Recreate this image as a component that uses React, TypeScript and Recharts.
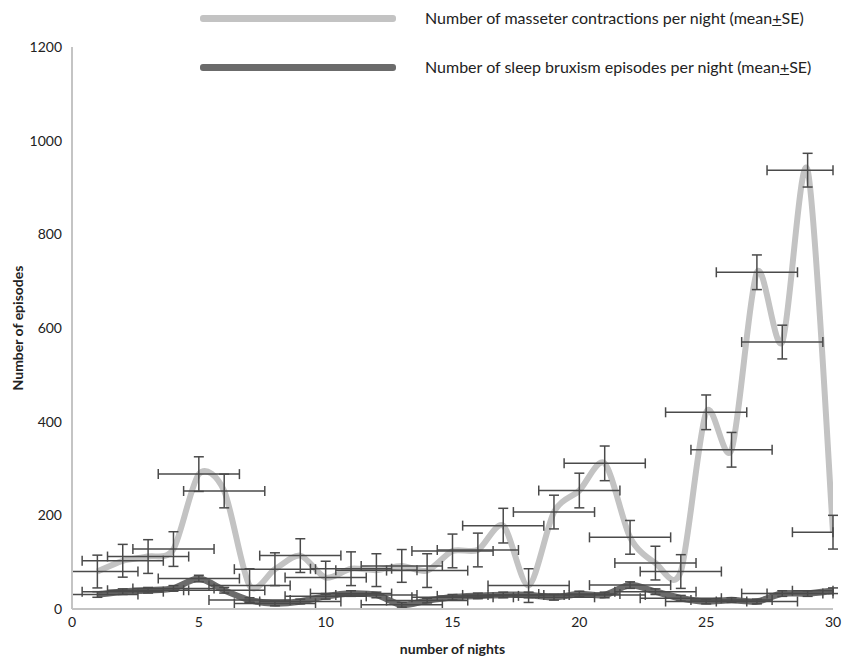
import React from 'react';
import { ComposedChart, Line, Scatter, ErrorBar, XAxis, YAxis, Legend } from 'recharts';

const nights = [1, 2, 3, 4, 5, 6, 7, 8, 9, 10, 11, 12, 13, 14, 15, 16, 17, 18, 19, 20, 21, 22, 23, 24, 25, 26, 27, 28, 29, 30];
const masseterMean = [80, 103, 112, 128, 288, 252, 50, 85, 114, 67, 86, 83, 92, 82, 124, 126, 178, 50, 207, 253, 311, 153, 98, 80, 420, 340, 719, 570, 937, 164];
const masseterSE = [35, 35, 36, 37, 37, 36, 36, 35, 36, 35, 36, 35, 35, 36, 36, 36, 37, 36, 36, 37, 37, 36, 36, 36, 37, 37, 37, 36, 36, 36];
const bruxismMean = [31, 37, 40, 44, 65, 40, 19, 12, 16, 27, 33, 30, 9, 18, 25, 28, 30, 30, 25, 32, 30, 51, 37, 23, 16, 19, 16, 33, 33, 39];
const bruxismSE = [6, 6, 6, 6, 7, 6, 5, 5, 5, 6, 6, 6, 5, 5, 6, 6, 6, 6, 6, 6, 6, 7, 6, 6, 5, 5, 5, 6, 6, 6];
// horizontal spread of each night (left / right arm, as drawn, ending at the axis limits)
const nightSpreadLow = [1.0, 1.6, 1.6, 1.6, 1.6, 1.6, 1.6, 1.6, 1.6, 1.6, 1.6, 1.6, 1.6, 1.6, 1.6, 1.6, 1.6, 1.6, 1.6, 1.6, 1.6, 1.6, 1.6, 1.6, 1.6, 1.6, 1.6, 1.6, 1.6, 1.6];
const nightSpreadHigh = [1.6, 1.6, 1.6, 1.6, 1.6, 1.6, 1.6, 1.6, 1.6, 1.6, 1.6, 1.6, 1.6, 1.6, 1.6, 1.6, 1.6, 1.6, 1.6, 1.6, 1.6, 1.6, 1.6, 1.6, 1.6, 1.6, 1.6, 1.6, 1.0, 0];
const xTicks = [0, 5, 10, 15, 20, 25, 30];
const yTicks = [0, 200, 400, 600, 800, 1000, 1200];
const seriesNames = [
  'Number of masseter contractions per night (mean',
  'Number of sleep bruxism episodes per night (mean',
];

const data = nights.map((n, i) => ({
  night: n,
  masseter: masseterMean[i],
  masseterSE: masseterSE[i],
  bruxism: bruxismMean[i],
  bruxismSE: bruxismSE[i],
  xErr: [nightSpreadLow[i], nightSpreadHigh[i]],
}));

const LIGHT = '#c3c3c3';
const DARK = '#6b6b6b';
const BAR = '#4a4a4a';
const FONT = 'Lato, "Liberation Sans", sans-serif';

// Excel-like smoothed line (cardinal spline through the points)
function smoothCurve(context: any) {
  let pts: number[][] = [];
  return {
    areaStart() {},
    areaEnd() {},
    lineStart() {
      pts = [];
    },
    point(x: number, y: number) {
      pts.push([+x, +y]);
    },
    lineEnd() {
      const n = pts.length;
      if (!n) return;
      context.moveTo(pts[0][0], pts[0][1]);
      for (let i = 0; i < n - 1; i++) {
        const p0 = pts[i - 1] || pts[i];
        const p1 = pts[i];
        const p2 = pts[i + 1];
        const p3 = pts[i + 2] || p2;
        const t = 0.14;
        context.bezierCurveTo(
          p1[0] + (p2[0] - p0[0]) * t,
          p1[1] + (p2[1] - p0[1]) * t,
          p2[0] - (p3[0] - p1[0]) * t,
          p2[1] - (p3[1] - p1[1]) * t,
          p2[0],
          p2[1]
        );
      }
    },
  };
}

const LegendContent = () => {
  const rows = [
    { color: LIGHT, name: seriesNames[0], top: 18 },
    { color: DARK, name: seriesNames[1], top: 67 },
  ];
  return (
    <div style={{ position: 'relative', width: 846, height: 90, fontFamily: FONT }}>
      {rows.map((r) => (
        <React.Fragment key={r.name}>
          <div
            style={{
              position: 'absolute',
              left: 200,
              top: r.top - 3,
              width: 196,
              height: 7,
              background: r.color,
              borderRadius: 3,
            }}
          />
          <div
            style={{
              position: 'absolute',
              left: 425,
              top: r.top - 11,
              fontSize: 16,
              lineHeight: '22px',
              color: '#222',
              whiteSpace: 'nowrap',
            }}
          >
            {r.name}
            <span style={{ textDecoration: 'underline' }}>+</span>
            SE)
          </div>
        </React.Fragment>
      ))}
    </div>
  );
};

const noShape = () => <g />;

export default function App() {
  return (
    <div style={{ position: 'absolute', left: 0, top: 0, width: 846, height: 657, background: '#fff', fontFamily: FONT }}>
      <ComposedChart width={846} height={657} data={data} margin={{ top: 47, right: 13, bottom: 0, left: 0 }}>
        <XAxis
          dataKey="night"
          type="number"
          domain={[0, 30]}
          ticks={xTicks}
          allowDataOverflow
          tickLine={false}
          axisLine={{ stroke: '#c4c4c4', strokeWidth: 2 }}
          tick={{ fill: '#222', fontSize: 14, fontFamily: FONT }}
          tickMargin={2}
          height={48}
          label={{
            value: 'number of nights',
            position: 'insideBottom',
            offset: 3,
            style: { fontSize: 14, fontWeight: 700, fill: '#222', fontFamily: FONT },
          }}
        />
        <YAxis
          type="number"
          domain={[0, 1200]}
          ticks={yTicks}
          tickLine={false}
          axisLine={{ stroke: '#c4c4c4', strokeWidth: 2 }}
          tick={{ fill: '#222', fontSize: 14, fontFamily: FONT }}
          tickMargin={4}
          width={72}
          label={{
            value: 'Number of episodes',
            angle: -90,
            position: 'insideLeft',
            offset: 18,
            style: { textAnchor: 'middle', fontSize: 14, fontWeight: 700, fill: '#222', fontFamily: FONT },
          }}
        />
        <Legend
          layout="horizontal"
          verticalAlign="middle"
          align="center"
          wrapperStyle={{ top: 0, left: 0, width: 846, height: 90 }}
          content={LegendContent}
        />
        <Line
          dataKey="masseter"
          type={smoothCurve as any}
          stroke={LIGHT}
          strokeWidth={6}
          dot={false}
          activeDot={false}
          isAnimationActive={false}
          legendType="none"
        />
        <Line
          dataKey="bruxism"
          type={smoothCurve as any}
          stroke={DARK}
          strokeWidth={6.5}
          dot={false}
          activeDot={false}
          isAnimationActive={false}
          legendType="none"
        />
        <Scatter dataKey="masseter" shape={noShape} isAnimationActive={false} legendType="none">
          <ErrorBar dataKey="masseterSE" direction="y" stroke={BAR} strokeWidth={1.5} width={5} isAnimationActive={false} />
          <ErrorBar dataKey="xErr" direction="x" stroke={BAR} strokeWidth={1.5} width={5} isAnimationActive={false} />
        </Scatter>
        <Scatter dataKey="bruxism" shape={noShape} isAnimationActive={false} legendType="none">
          <ErrorBar dataKey="bruxismSE" direction="y" stroke={BAR} strokeWidth={1.5} width={5} isAnimationActive={false} />
          <ErrorBar dataKey="xErr" direction="x" stroke={BAR} strokeWidth={1.5} width={5} isAnimationActive={false} />
        </Scatter>
      </ComposedChart>
    </div>
  );
}
